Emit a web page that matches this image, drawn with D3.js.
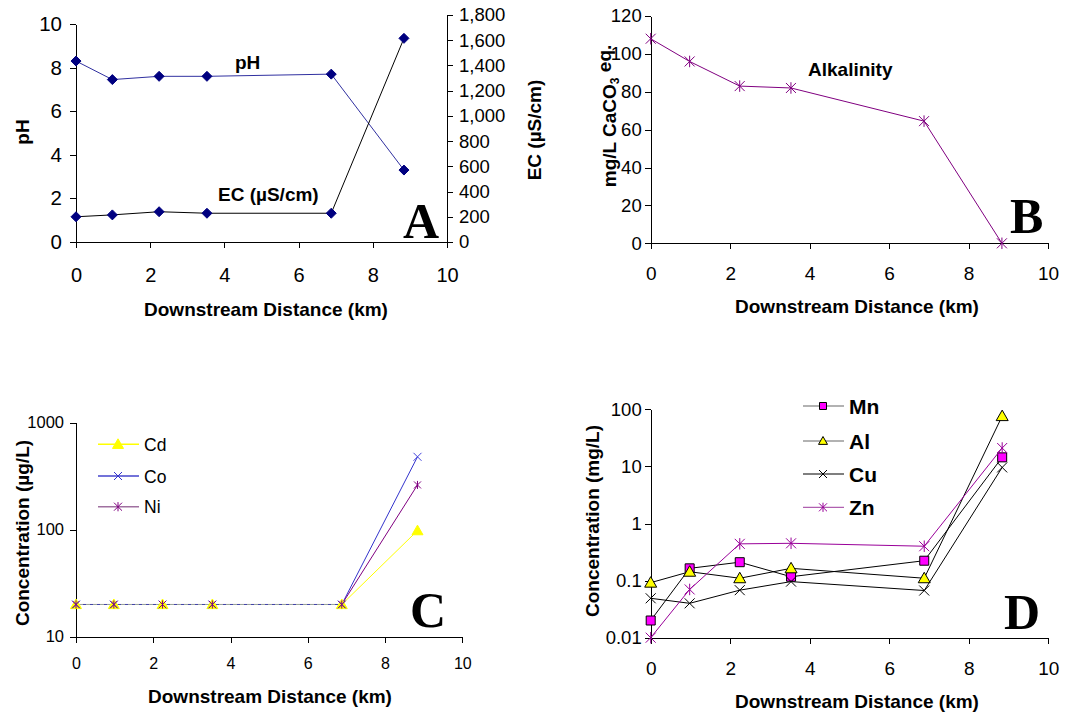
<!DOCTYPE html>
<html>
<head>
<meta charset="utf-8">
<script src="https://cdn.jsdelivr.net/npm/d3@7"></script>
<style>
body { margin: 0; background: #fff; }
svg { font-family: "Liberation Sans", Arial, sans-serif; }
.axis path, .axis line { stroke: #000; stroke-width: 1; shape-rendering: crispEdges; }
.title { font-weight: bold; font-size: 19px; }
.big { font-family: "Liberation Serif", "Times New Roman", serif; font-weight: bold; font-size: 50px; }
</style>
</head>
<body>
<svg width="1076" height="713"></svg>
<script>
// sampling sites, km downstream
const distance = [0, 0.98, 2.24, 3.53, 6.88, 8.84];

// panel A
const pH = [8.3, 7.45, 7.6, 7.6, 7.7, 3.3];
const ec = [200, 215, 240, 228, 228, 1615];
// panel B
const alkalinity = [108, 96, 83, 82, 64.5, 0];
// panel C (ug/L)
const cd = [20, 20, 20, 20, 20, 98];
const co = [20, 20, 20, 20, 20, 480];
const ni = [20, 20, 20, 20, 20, 262];
// panel D (mg/L)
const mn = [0.02, 0.164, 0.21, 0.117, 0.223, 14.4];
const al = [0.092, 0.143, 0.11, 0.164, 0.11, 76];
const cu = [0.049, 0.04, 0.068, 0.096, 0.067, 9.6];
const zn = [0.01, 0.07, 0.44, 0.45, 0.40, 21];

const xTicks = [0, 2, 4, 6, 8, 10];
const phTicks = [0, 2, 4, 6, 8, 10];
const ecTicks = [0, 200, 400, 600, 800, 1000, 1200, 1400, 1600, 1800];
const alkTicks = [0, 20, 40, 60, 80, 100, 120];
const ugTicks = [10, 100, 1000];
const mgTicks = [0.01, 0.1, 1, 10, 100];

let svg = d3.select('svg');

function markerPath(type, s) {
    let h = s / 2;
    if (type === 'diamond') return 'M0,' + (-h) + 'L' + h + ',0L0,' + h + 'L' + (-h) + ',0Z';
    if (type === 'square') return 'M' + (-h) + ',' + (-h) + 'H' + h + 'V' + h + 'H' + (-h) + 'Z';
    if (type === 'triangle') return 'M0,' + (-h) + 'L' + h + ',' + (h * 0.75) + 'L' + (-h) + ',' + (h * 0.75) + 'Z';
    let x = 'M' + (-h) + ',' + (-h) + 'L' + h + ',' + h + 'M' + h + ',' + (-h) + 'L' + (-h) + ',' + h;
    if (type === 'x') return x;
    return x + 'M0,' + (-h * 1.15) + 'V' + (h * 1.15); // asterisk
}

function seriesLine(g, x, y, values, color) {
    g.append('path')
        .datum(values)
        .attr('d', d3.line().x((d, i) => x(distance[i])).y(d => y(d)))
        .attr('fill', 'none')
        .attr('stroke', color)
        .attr('stroke-width', 1);
}

function seriesMarks(g, x, y, values, opt) {
    g.selectAll(null)
        .data(values)
        .enter().append('path')
        .attr('transform', (d, i) => 'translate(' + x(distance[i]) + ',' + y(d) + ')')
        .attr('d', markerPath(opt.type, opt.size))
        .attr('fill', opt.fill || 'none')
        .attr('stroke', opt.stroke)
        .attr('stroke-width', 1);
}

function series(g, x, y, values, opt) {
    seriesLine(g, x, y, values, opt.line);
    seriesMarks(g, x, y, values, opt);
}

function xAxis(g, x, yPos, pad, fs) {
    g.append('g')
        .attr('class', 'axis')
        .attr('transform', 'translate(0,' + yPos + ')')
        .call(d3.axisBottom(x).tickValues(xTicks).tickSize(6).tickSizeOuter(0).tickPadding(pad).tickFormat(d3.format('d')))
        .selectAll('text').attr('font-size', fs).attr('font-family', null).attr('fill', '#000');
}

function yAxis(g, y, xPos, ticks, fmt, pad, fs, right) {
    let ax = right ? d3.axisRight(y) : d3.axisLeft(y);
    g.append('g')
        .attr('class', 'axis')
        .attr('transform', 'translate(' + xPos + ',0)')
        .call(ax.tickValues(ticks).tickSize(6).tickSizeOuter(0).tickPadding(pad).tickFormat(fmt))
        .selectAll('text').attr('font-size', fs).attr('font-family', null).attr('fill', '#000');
}

function yTitle(g, cx, cy, text) {
    return g.append('text')
        .attr('class', 'title')
        .attr('text-anchor', 'middle')
        .attr('transform', 'translate(' + cx + ',' + cy + ')rotate(-90)')
        .attr('dy', '0.36em')
        .text(text);
}

function label(g, x, y, text, cls, size) {
    return g.append('text')
        .attr('class', cls)
        .attr('x', x).attr('y', y)
        .attr('font-size', size)
        .text(text);
}

// ---------- A ----------
let a = svg.append('g');
let xa = d3.scaleLinear().domain([0, 10]).range([76, 447]);
let ya = d3.scaleLinear().domain([0, 10]).range([242, 24]);
let ya2 = d3.scaleLinear().domain([0, 1800]).range([242, 15]);

xAxis(a, xa, 242, 20, '20px');
yAxis(a, ya, 76, phTicks, d3.format('d'), 8, '20.5px', false);
yAxis(a, ya2, 447, ecTicks, d3.format(','), 6, '18.5px', true);

series(a, xa, ya, pH, { line: '#3030a0', type: 'diamond', size: 10, fill: '#000080', stroke: '#000080' });
series(a, xa, ya2, ec, { line: '#000', type: 'diamond', size: 10, fill: '#000080', stroke: '#000080' });

label(a, 235, 69, 'pH', 'title', '19px');
label(a, 218, 201, 'EC (\u00b5S/cm)', 'title', '18.5px');
label(a, 403, 238, 'A', 'big', '50px');
yTitle(a, 22, 132, 'pH');
yTitle(a, 534, 130, 'EC (\u00b5S/cm)');
a.append('text').attr('class', 'title').attr('text-anchor', 'middle')
    .attr('x', 266).attr('y', 316).text('Downstream Distance (km)');

// ---------- B ----------
let b = svg.append('g');
let xb = d3.scaleLinear().domain([0, 10]).range([650.7, 1048]);
let yb = d3.scaleLinear().domain([0, 120]).range([243.3, 16]);

xAxis(b, xb, 243.3, 17, '19px');
yAxis(b, yb, 650.7, alkTicks, d3.format('d'), 3, '18.5px', false);

series(b, xb, yb, alkalinity, { line: '#800080', type: 'star', size: 10, stroke: '#800080' });

label(b, 808, 76, 'Alkalinity', 'title', '18.5px');
label(b, 1010, 233, 'B', 'big', '50px');
let bt = yTitle(b, 609, 116, 'mg/L CaCO');
bt.append('tspan').attr('font-size', '12px').attr('dy', '0.3em').text('3');
bt.append('tspan').attr('dy', '-0.45em').text(' eq.');
b.append('text').attr('class', 'title').attr('text-anchor', 'middle')
    .attr('x', 857).attr('y', 313).text('Downstream Distance (km)');

// ---------- C ----------
let c = svg.append('g');
let xc = d3.scaleLinear().domain([0, 10]).range([76, 462.3]);
let yc = d3.scaleLog().domain([10, 1000]).range([636.7, 422.7]);

xAxis(c, xc, 636.7, 15, '16px');
yAxis(c, yc, 76, ugTicks, d3.format('d'), 6, '16.5px', false);

seriesLine(c, xc, yc, cd, '#ffff00');
seriesLine(c, xc, yc, co, '#3333cc');
seriesLine(c, xc, yc, ni, '#800080');
// the flat stretch where the three lines lie on top of each other
c.append('path')
    .datum(cd.slice(0, 5))
    .attr('d', d3.line().x((d, i) => xc(distance[i])).y(d => yc(d)))
    .attr('fill', 'none').attr('stroke', '#9aa59a').attr('stroke-width', 1.2);
c.append('path')
    .datum(co.slice(0, 5))
    .attr('d', d3.line().x((d, i) => xc(distance[i])).y(d => yc(d)))
    .attr('fill', 'none').attr('stroke', '#4444aa').attr('stroke-width', 1.2).attr('stroke-dasharray', '3,4');
seriesMarks(c, xc, yc, cd, { type: 'triangle', size: 11, fill: '#ffff00', stroke: '#ffff00' });
seriesMarks(c, xc, yc, co, { type: 'x', size: 8, stroke: '#4444dd' });
seriesMarks(c, xc, yc, ni, { type: 'star', size: 7, stroke: '#800080' });

const legendC = [
    { name: 'Cd', line: '#ffff00', type: 'triangle', size: 11, fill: '#ffff00', stroke: '#ffff00' },
    { name: 'Co', line: '#4444cc', type: 'x', size: 8, stroke: '#3333cc' },
    { name: 'Ni', line: '#a070a0', type: 'star', size: 8, stroke: '#800080' }
];
let lc = c.selectAll('.lg').data(legendC).enter().append('g')
    .attr('transform', (d, i) => 'translate(0,' + [444.3, 476, 506.7][i] + ')');
lc.append('line').attr('x1', 98).attr('x2', 139).attr('stroke', d => d.line).attr('stroke-width', 1.5);
lc.append('path').attr('transform', 'translate(118,0)')
    .attr('d', d => markerPath(d.type, d.size)).attr('fill', d => d.fill || 'none').attr('stroke', d => d.stroke);
lc.append('text').attr('x', 144).attr('y', 6.5).attr('font-size', '17.5px').text(d => d.name);

label(c, 410, 627, 'C', 'big', '50px');
yTitle(c, 22, 533, 'Concentration (\u00b5g/L)');
c.append('text').attr('class', 'title').attr('text-anchor', 'middle')
    .attr('x', 270).attr('y', 703).text('Downstream Distance (km)');

// ---------- D ----------
let dd = svg.append('g');
let xd = d3.scaleLinear().domain([0, 10]).range([650.7, 1048.3]);
let yd = d3.scaleLog().domain([0.01, 100]).range([637.7, 409.3]);

xAxis(dd, xd, 637.7, 18, '19px');
yAxis(dd, yd, 650.7, mgTicks, d => String(d), 3, '18.5px', false);

const seriesD = [
    { name: 'Mn', values: mn, line: '#000', type: 'square', size: 9, fill: '#ff00ff', stroke: '#000', lg: '#666', ls: 7 },
    { name: 'Al', values: al, line: '#000', type: 'triangle', size: 12, fill: '#ffff00', stroke: '#000', lg: '#666', ls: 9 },
    { name: 'Cu', values: cu, line: '#000', type: 'x', size: 10, stroke: '#000', lg: '#000', ls: 8 },
    { name: 'Zn', values: zn, line: '#990099', type: 'star', size: 10, stroke: '#990099', lg: '#b060b0', ls: 8 }
];
seriesD.forEach(s => series(dd, xd, yd, s.values, s));

let ld = dd.selectAll('.lg').data(seriesD).enter().append('g')
    .attr('transform', (d, i) => 'translate(0,' + [406, 441, 474, 507.3][i] + ')');
ld.append('line').attr('x1', 803).attr('x2', 844).attr('stroke', d => d.lg).attr('stroke-width', 1.2);
ld.append('path').attr('transform', 'translate(823,0)')
    .attr('d', d => markerPath(d.type, d.ls)).attr('fill', d => d.fill || 'none').attr('stroke', d => d.stroke);
ld.append('text').attr('x', 849).attr('y', 7.5).attr('font-size', '21px').attr('font-weight', 'bold').text(d => d.name);

label(dd, 1004, 629, 'D', 'big', '50px');
yTitle(dd, 592, 521, 'Concentration (mg/L)');
dd.append('text').attr('class', 'title').attr('text-anchor', 'middle')
    .attr('x', 857).attr('y', 708).text('Downstream Distance (km)');
</script>
</body>
</html>
